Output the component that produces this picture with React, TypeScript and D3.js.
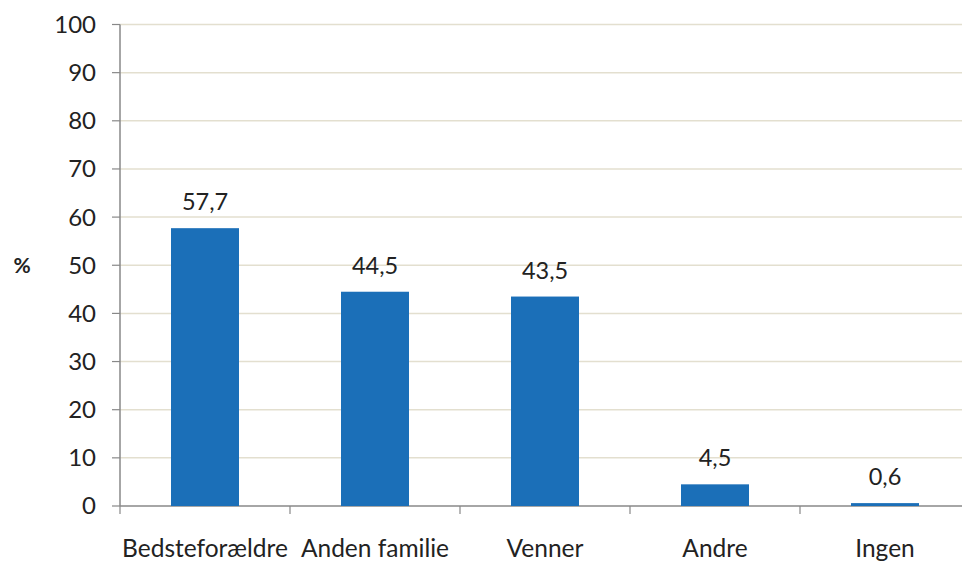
import React from "react";
import * as d3 from "d3";

const categories = ["Bedsteforældre", "Anden familie", "Venner", "Andre", "Ingen"];
const values = [57.7, 44.5, 43.5, 4.5, 0.6];
const yTicks = [0, 10, 20, 30, 40, 50, 60, 70, 80, 90, 100];
const yLabel = "%";

export default function App() {
  const W = 962, H = 561;
  const left = 120, right = 970, top = 24.5, bottom = 506;
  const font = "Lato, 'Open Sans', sans-serif";
  const x = d3.scaleBand<string>().domain(categories).range([left, right]).paddingInner(0.6).paddingOuter(0.3);
  const y = d3.scaleLinear().domain([0, 100]).range([bottom, top]);
  const band = d3.scaleBand<string>().domain(categories).range([left, right]);
  const fmt = (v: number) => v.toFixed(1).replace(".", ",");
  return (
    <svg width={W} height={H} style={{ position: "absolute", left: 0, top: 0, background: "#fff" }}>
      {yTicks.filter(t => t > 0).map(t => (
        <line key={"g" + t} x1={left} x2={W} y1={y(t)} y2={y(t)} stroke="#e3dfcf" strokeWidth={1.5} />
      ))}
      {yTicks.map(t => (
        <g key={"t" + t}>
          <line x1={left - 8} x2={left} y1={y(t)} y2={y(t)} stroke="#888" strokeWidth={1.2} />
          <text x={96} y={y(t)} dy="0.35em" textAnchor="end" fontFamily={font} fontSize={24} fill="#222">{t}</text>
        </g>
      ))}
      <line x1={left} x2={left} y1={top} y2={bottom} stroke="#888" strokeWidth={1.5} />
      <line x1={left} x2={W} y1={bottom} y2={bottom} stroke="#888" strokeWidth={1.5} />
      {categories.map((c, i) => (
        <line key={"xt" + i} x1={band(c)!} x2={band(c)!} y1={bottom} y2={bottom + 8} stroke="#888" strokeWidth={1.2} />
      ))}
      <line x1={band(categories[categories.length - 1])! + band.bandwidth()} x2={band(categories[categories.length - 1])! + band.bandwidth()} y1={bottom} y2={bottom + 8} stroke="#888" strokeWidth={1.2} />
      {categories.map((c, i) => (
        <g key={"b" + i}>
          <rect x={x(c)!} y={y(values[i])} width={x.bandwidth()} height={bottom - y(values[i])} fill="#1b6fb8" />
          <text x={x(c)! + x.bandwidth() / 2} y={y(values[i]) - 18} textAnchor="middle" fontFamily={font} fontSize={23.5} fill="#222">{fmt(values[i])}</text>
          <text x={band(c)! + band.bandwidth() / 2} y={557} textAnchor="middle" fontFamily={font} fontSize={24.5} fill="#222">{c}</text>
        </g>
      ))}
      <text x={22} y={y(50)} dy="0.35em" textAnchor="middle" fontFamily={font} fontSize={21} fontWeight="bold" fill="#222">{yLabel}</text>
    </svg>
  );
}
